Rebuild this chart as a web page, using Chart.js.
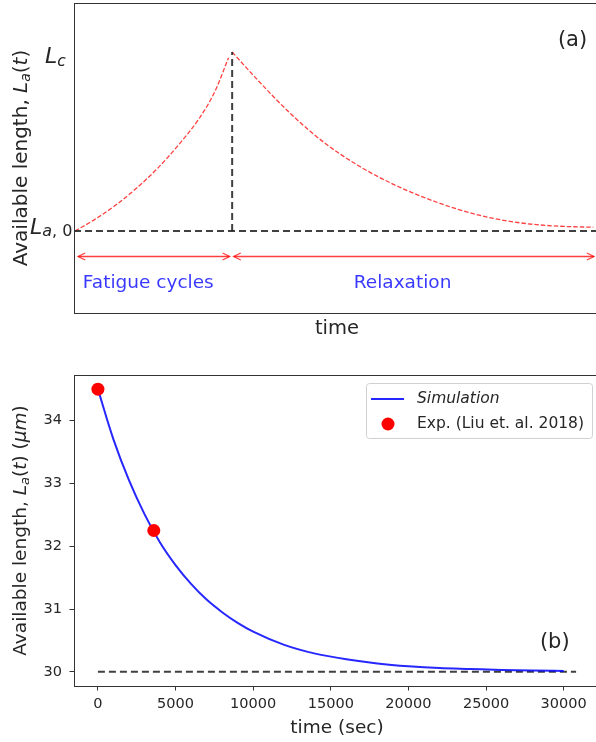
<!DOCTYPE html>
<html><head><meta charset="utf-8">
<script src="https://cdn.jsdelivr.net/npm/chart.js@4.4.1/dist/chart.umd.min.js"></script>
<style>
html,body{margin:0;padding:0;background:#fff;overflow:hidden;}
#wrap{position:relative;width:596px;height:742px;overflow:hidden;background:#fff;}
canvas{position:absolute;left:0;}
#c1{top:0;} #c2{top:345px;}
</style></head><body>
<div id="wrap"><canvas id="c1" width="600" height="345"></canvas><canvas id="c2" width="600" height="397"></canvas></div>
<script>
// ---------- panel (a): schematic ----------
const fatigueX = [0.2, 4, 8, 12, 16, 20, 24, 27, 29.6];
const fatigueY = [0, 0.065, 0.145, 0.24, 0.35, 0.48, 0.63, 0.78, 0.968];
const relaxX = [30.3, 35.3, 41.7, 48.1, 54.5, 60.9, 67.3, 73.7, 80.1, 86.5, 92.9, 99.5];
const relaxY = [1.0, 0.84, 0.65, 0.49, 0.365, 0.265, 0.185, 0.12, 0.072, 0.042, 0.027, 0.021];
const baseX = [0, 100.77];
const baseY = [0, 0];
const peakX = [30.3, 30.3];
const peakY = [0, 1];
const arrowLevel = -0.14;
const arrowStart = [0.8, 30.6];
const arrowEnd = [29.8, 99.6];
const phaseLabels = ['Fatigue cycles', 'Relaxation'];
const phaseX = [1.7, 53.6];
const phaseY = [-0.318, -0.318];
const panelATag = '(a)';
const panelATagPos = [92.7, 1.031];
const topYTickValues = [1, 0]; // L_c, L_{a,0}

// ---------- panel (b): simulation vs experiment ----------
const simTime = [0, 1000, 2000, 3000, 4000, 5000, 6000, 7000, 8000, 9000, 10000, 12000, 14000, 16000, 18000, 20000, 22000, 24000, 26000, 28000, 30000];
const simLength = [34.5, 33.70, 33.05, 32.51, 32.06, 31.70, 31.40, 31.15, 30.95, 30.78, 30.64, 30.43, 30.29, 30.20, 30.135, 30.09, 30.06, 30.045, 30.03, 30.02, 30.015];
const expTime = [0, 3600];
const expLength = [34.5, 32.25];
const refTime = [0, 30800];
const refLength = [30, 30];
const xTicks = [0, 5000, 10000, 15000, 20000, 25000, 30000];
const yTicks = [30, 31, 32, 33, 34];
const panelBTag = '(b)';
const panelBTagPos = [28470, 30.38];

const zip = (xs, ys) => xs.map((x, i) => ({x: x, y: ys[i]}));
const F = (size, italic) => (italic ? 'italic ' : '') + size + 'px "DejaVu Sans", sans-serif';
const TXT = '#262626';
const KDASH = 'rgba(30,30,30,0.85)';
const RED = 'rgba(255,0,0,0.75)';

Chart.defaults.font.family = '"DejaVu Sans", sans-serif';
Chart.defaults.animation = false;

function drawRuns(ctx, runs, x, y, align, rotate, color) {
  ctx.save();
  ctx.translate(x, y);
  if (rotate) ctx.rotate(-Math.PI / 2);
  let w = 0;
  const ws = runs.map(r => { ctx.font = r.font; const m = ctx.measureText(r.text).width; w += m; return m; });
  let cx = align === 'center' ? -w / 2 : (align === 'right' ? -w : 0);
  ctx.fillStyle = color; ctx.textBaseline = 'alphabetic'; ctx.textAlign = 'left';
  runs.forEach((r, i) => { ctx.font = r.font; ctx.fillText(r.text, cx, r.dy || 0); cx += ws[i]; });
  ctx.restore();
}

const noPad = s => { s.paddingLeft = 0; s.paddingRight = 0; s.paddingTop = 0; s.paddingBottom = 0; };

const framePlugin = {
  id: 'frame',
  afterDatasetsDraw(chart) {
    const {ctx, chartArea: a} = chart;
    ctx.save();
    ctx.strokeStyle = '#333'; ctx.lineWidth = 1;
    ctx.strokeRect(Math.round(a.left) + 0.5, Math.round(a.top) + 0.5, Math.round(a.right - a.left), Math.round(a.bottom - a.top));
    ctx.restore();
  }
};

const topAnnot = {
  id: 'topAnnot',
  afterDatasetsDraw(chart) {
    const {ctx, chartArea: a, scales: {x, y}} = chart;
    ctx.save();
    ctx.strokeStyle = RED; ctx.lineWidth = 1.3;
    const py = Math.round(y.getPixelForValue(arrowLevel)) + 0.5;
    for (let i = 0; i < arrowStart.length; i++) {
      const x1 = x.getPixelForValue(arrowStart[i]), x2 = x.getPixelForValue(arrowEnd[i]);
      ctx.beginPath(); ctx.moveTo(x1, py); ctx.lineTo(x2, py); ctx.stroke();
      ctx.beginPath(); ctx.moveTo(x1 + 7, py - 3.5); ctx.lineTo(x1, py); ctx.lineTo(x1 + 7, py + 3.5); ctx.stroke();
      ctx.beginPath(); ctx.moveTo(x2 - 7, py - 3.5); ctx.lineTo(x2, py); ctx.lineTo(x2 - 7, py + 3.5); ctx.stroke();
    }
    ctx.restore();
    ctx.save();
    ctx.fillStyle = 'rgba(20,20,255,0.85)'; ctx.font = F(18.5); ctx.textBaseline = 'alphabetic'; ctx.textAlign = 'left';
    phaseLabels.forEach((t, i) => ctx.fillText(t, x.getPixelForValue(phaseX[i]), y.getPixelForValue(phaseY[i])));
    ctx.fillStyle = TXT; ctx.font = F(21);
    ctx.fillText(panelATag, x.getPixelForValue(panelATagPos[0]), y.getPixelForValue(panelATagPos[1]));
    ctx.restore();
    const lc = y.getPixelForValue(topYTickValues[0]);
    drawRuns(ctx, [{text: 'L', font: F(22, true)}, {text: 'c', font: F(15.5, true), dy: 2.5}], 45, lc + 11, 'left', false, TXT);
    const la = y.getPixelForValue(topYTickValues[1]);
    drawRuns(ctx, [{text: 'L', font: F(22, true)}, {text: 'a', font: F(16, true), dy: 2.5}, {text: ', 0', font: F(16), dy: 2.5}], 30, la + 2.5, 'left', false, TXT);
    drawRuns(ctx, [
      {text: 'Available length, ', font: F(20)},
      {text: 'L', font: F(20, true)},
      {text: 'a', font: F(14, true), dy: 3},
      {text: '(', font: F(20)}, {text: 't', font: F(20, true)}, {text: ')', font: F(20)}
    ], 26.5, (a.top + a.bottom) / 2, 'center', true, TXT);
  }
};

new Chart(document.getElementById('c1'), {
  type: 'line',
  data: {datasets: [
    {label: 'peak', data: zip(peakX, peakY), borderColor: KDASH, borderWidth: 2, borderDash: [7, 4], pointRadius: 0},
    {label: 'base', data: zip(baseX, baseY), borderColor: KDASH, borderWidth: 2, borderDash: [7, 4], pointRadius: 0},
    {label: 'fatigue', data: zip(fatigueX, fatigueY), borderColor: RED, borderWidth: 1.3, borderDash: [4.5, 2], pointRadius: 0, cubicInterpolationMode: 'monotone'},
    {label: 'relax', data: zip(relaxX, relaxY), borderColor: RED, borderWidth: 1.3, borderDash: [4.5, 2], pointRadius: 0, cubicInterpolationMode: 'monotone'}
  ]},
  options: {
    responsive: false, animation: false, devicePixelRatio: 1,
    layout: {autoPadding: false, padding: {top: 3, left: 0, right: 0, bottom: 0}},
    plugins: {legend: {display: false}, tooltip: {enabled: false}},
    scales: {
      x: {type: 'linear', min: 0, max: 100.77, ticks: {display: false}, grid: {display: false}, border: {display: false},
          title: {display: true, text: 'time', color: TXT, font: {size: 19.5}, padding: {top: 0, bottom: 4.5}},
          afterFit: s => { s.height = 32; noPad(s); }},
      y: {type: 'linear', min: -0.458, max: 1.274, ticks: {display: false}, grid: {display: false}, border: {display: false},
          afterFit: s => { s.width = 74; noPad(s); }}
    }
  },
  plugins: [framePlugin, topAnnot]
});

const bottomAnnot = {
  id: 'bottomAnnot',
  afterDatasetsDraw(chart) {
    const {ctx, chartArea: a, scales: {x, y}} = chart;
    drawRuns(ctx, [
      {text: 'Available length, ', font: F(18.5)},
      {text: 'L', font: F(18.5, true)},
      {text: 'a', font: F(13, true), dy: 3},
      {text: '(', font: F(18.5)}, {text: 't', font: F(18.5, true)}, {text: ') (', font: F(18.5)},
      {text: 'μm', font: F(18.5, true)}, {text: ')', font: F(18.5)}
    ], 26, (a.top + a.bottom) / 2, 'center', true, TXT);
    ctx.save();
    ctx.fillStyle = TXT; ctx.font = F(21); ctx.textBaseline = 'alphabetic'; ctx.textAlign = 'left';
    ctx.fillText(panelBTag, x.getPixelForValue(panelBTagPos[0]), y.getPixelForValue(panelBTagPos[1]));
    ctx.restore();
    const ds = chart.data.datasets;
    const sim = ds[1], exp = ds[0];
    const w = 226, h = 55, right = a.right - 8, top = a.top + 8, left = right - w;
    ctx.save();
    ctx.beginPath();
    if (ctx.roundRect) ctx.roundRect(left + 0.5, top + 0.5, w, h, 3); else ctx.rect(left + 0.5, top + 0.5, w, h);
    ctx.fillStyle = 'rgba(255,255,255,0.8)'; ctx.fill();
    ctx.strokeStyle = '#d0d0d0'; ctx.lineWidth = 1; ctx.stroke();
    ctx.strokeStyle = sim.borderColor; ctx.lineWidth = sim.borderWidth;
    ctx.beginPath(); ctx.moveTo(left + 5, top + 16); ctx.lineTo(left + 38, top + 16); ctx.stroke();
    ctx.fillStyle = exp.pointBackgroundColor;
    ctx.beginPath(); ctx.arc(left + 22, top + 41, exp.pointRadius, 0, Math.PI * 2); ctx.fill();
    ctx.fillStyle = TXT; ctx.textBaseline = 'middle'; ctx.textAlign = 'left';
    ctx.font = F(15.5, true); ctx.fillText(sim.label, left + 51, top + 16);
    ctx.font = F(15.5); ctx.fillText(exp.label, left + 51, top + 41);
    ctx.restore();
  }
};

new Chart(document.getElementById('c2'), {
  type: 'line',
  data: {datasets: [
    {label: 'Exp. (Liu et. al. 2018)', data: zip(expTime, expLength), showLine: false, pointRadius: 6.5, pointBackgroundColor: 'rgb(255,0,0)', pointBorderWidth: 0, pointBorderColor: 'rgba(0,0,0,0)'},
    {label: 'Simulation', data: zip(simTime, simLength), borderColor: 'rgba(0,0,255,0.85)', borderWidth: 2, pointRadius: 0, cubicInterpolationMode: 'monotone'},
    {label: 'asymptote', data: zip(refTime, refLength), borderColor: KDASH, borderWidth: 2, borderDash: [7, 4], pointRadius: 0}
  ]},
  options: {
    responsive: false, animation: false, devicePixelRatio: 1,
    layout: {autoPadding: false, padding: {top: 30, left: 0, right: 0, bottom: 0}},
    plugins: {legend: {display: false}, tooltip: {enabled: false}},
    scales: {
      x: {type: 'linear', min: -1540, max: 32340,
          afterBuildTicks: s => { s.ticks = xTicks.map(v => ({value: v})); },
          ticks: {color: TXT, font: {size: 14.5}, padding: 5, autoSkip: false, maxRotation: 0, callback: v => String(v)},
          grid: {display: true, drawOnChartArea: false, drawTicks: true, tickLength: 4.5, color: '#333', lineWidth: 1},
          border: {display: false},
          title: {display: true, text: 'time (sec)', color: TXT, font: {size: 18.5}, padding: {top: 0, bottom: 3}},
          afterFit: s => { s.height = 56; noPad(s); }},
      y: {type: 'linear', min: 29.775, max: 34.725,
          afterBuildTicks: s => { s.ticks = yTicks.map(v => ({value: v})); },
          ticks: {color: TXT, font: {size: 14.5}, padding: 7.5, autoSkip: false, callback: v => String(v)},
          grid: {display: true, drawOnChartArea: false, drawTicks: true, tickLength: 4.5, color: '#333', lineWidth: 1},
          border: {display: false},
          afterFit: s => { s.width = 74; noPad(s); }}
    }
  },
  plugins: [framePlugin, bottomAnnot]
});
</script>
</body></html>
